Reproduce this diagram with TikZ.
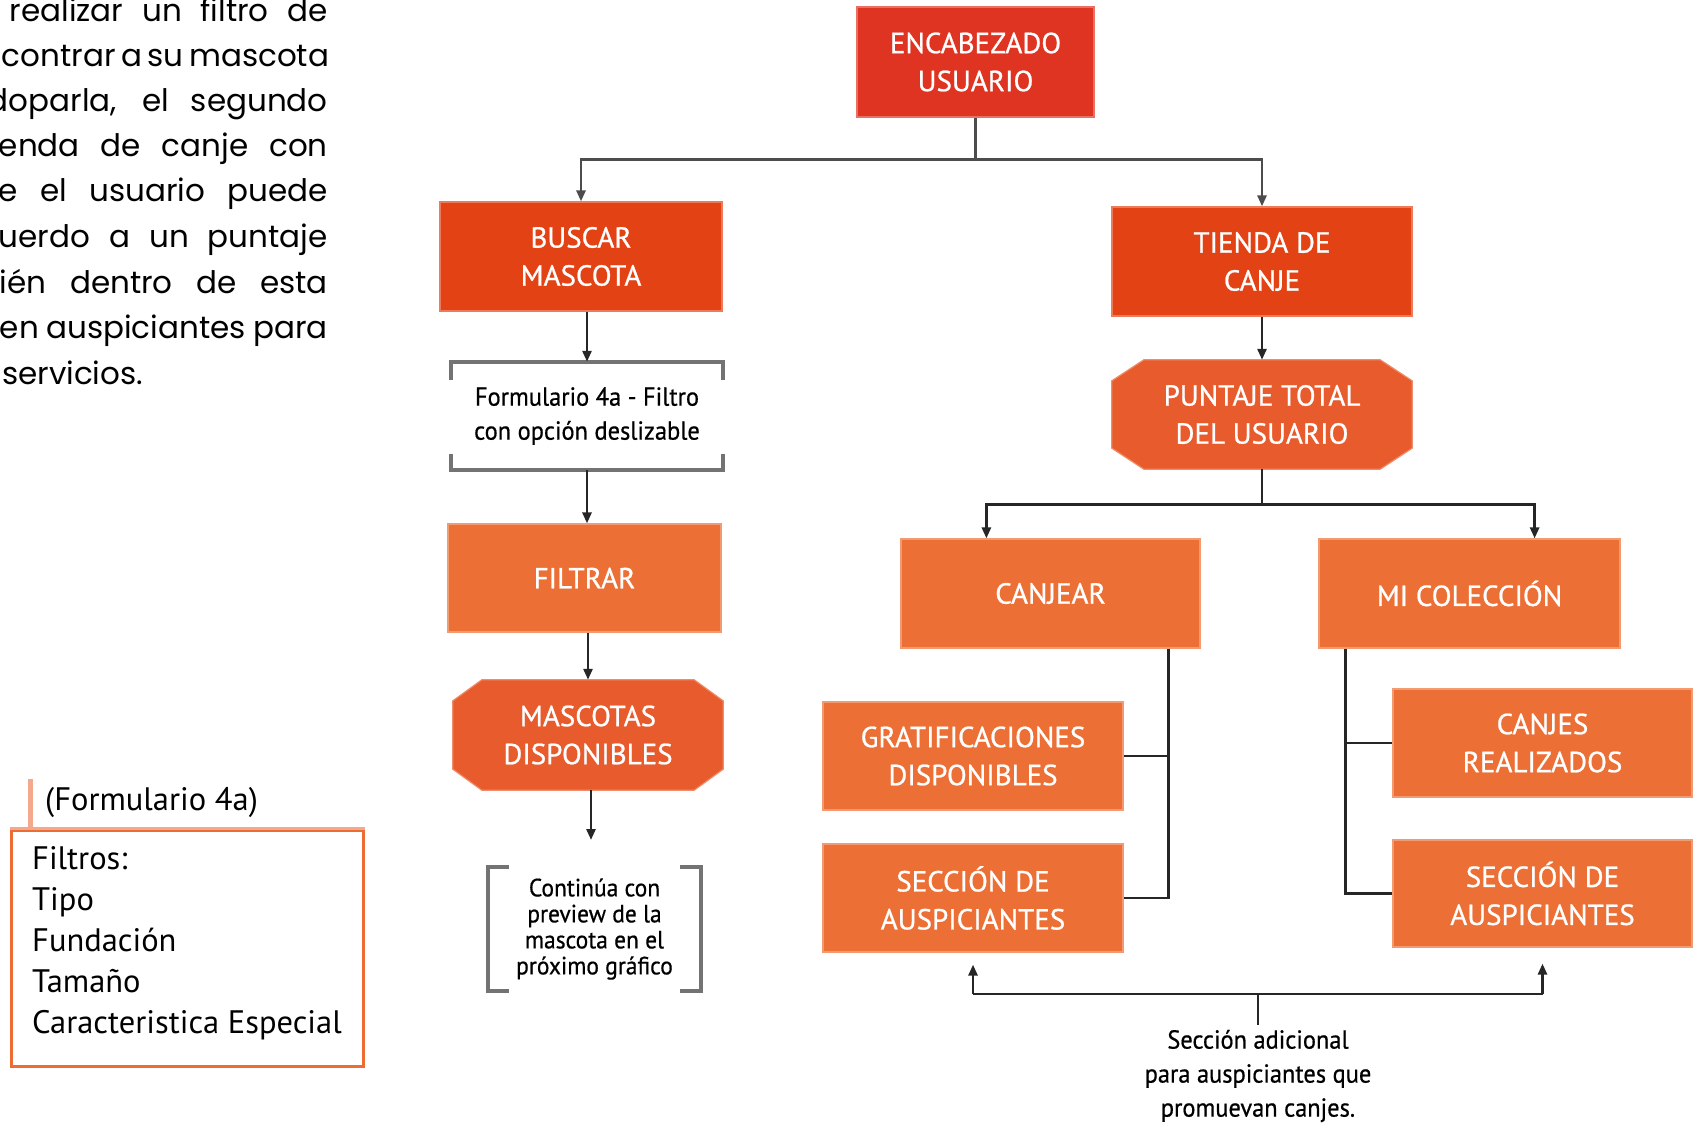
\documentclass[tikz,border=0pt]{standalone}
\usepackage{fontspec}
\setmainfont{PT Sans}
\newfontfamily\labelfont[FakeStretch=1.0,FakeBold=0.8]{PT Sans}
\newfontfamily\notefont[FakeStretch=0.94,FakeBold=0.6]{PT Sans}
\newfontfamily\parafont{Poppins}
\usetikzlibrary{arrows.meta,calc,backgrounds}

\definecolor{encred}{RGB}{224,52,34}
\definecolor{deepor}{RGB}{227,66,20}
\definecolor{octor}{RGB}{232,91,44}
\definecolor{lightor}{RGB}{236,112,54}
\definecolor{salmon}{RGB}{244,168,140}
\definecolor{frameor}{RGB}{236,108,52}

\tikzset{
  tbox/.style={rectangle, inner sep=0pt, align=center, text=white,
    font=\labelfont\fontsize{29}{38}\selectfont,
    fill=#1, draw=#1!70!white, line width=1.2pt},
  octnode/.style={rectangle, inner sep=0pt, align=center, text=white,
    font=\labelfont\fontsize{29}{38}\selectfont},
  conn/.style={line width=2.6pt, draw=black!85},
  arr/.style={conn, -{Triangle[length=11pt,width=9pt]}},
  brkline/.style={line width=3.5pt, draw=black!55},
  note/.style={inner sep=0pt, align=center, text=black},
  paraline/.style={inner sep=0pt, anchor=base east, font=\parafont\fontsize{31}{45}\selectfont}
}

% filled octagon behind a rectangular node #1, chamfer #2 (x) and #3 (y)
\newcommand\octfill[4]{%
  \fill[#4, draw=#4!70!white, line width=1.2pt]
    ($(#1.north west)+(#2,0)$) -- ($(#1.north east)+(-#2,0)$) --
    ($(#1.north east)+(0,#3)$) -- ($(#1.south east)+(0,-#3)$) --
    ($(#1.south east)+(-#2,0)$) -- ($(#1.south west)+(#2,0)$) --
    ($(#1.south west)+(0,-#3)$) -- ($(#1.north west)+(0,#3)$) -- cycle;}

\begin{document}
\begin{tikzpicture}[x=1pt,y=-1pt]
\useasboundingbox (0,0) rectangle (1693,1123);

% ---- running text on the left (justified column, clipped at the page edge)
\begin{scope}
\clip (0,0) rectangle (1693,1123);
\node[paraline] (p1) at (328,22)    {\makebox[318pt][s]{realizar un filtro de}};
\node[paraline] (p2) at (328,66.5)  {\makebox[326pt][s]{contrar a su mascota}};
\node[paraline] (p3) at (328,111.5) {\makebox[340pt][s]{doparla, el segundo}};
\node[paraline] (p4) at (328,156.5) {\makebox[329pt][s]{enda de canje con}};
\node[paraline] (p5) at (328,202)   {\makebox[329pt][s]{e el usuario puede}};
\node[paraline] (p6) at (328,247.5) {\makebox[329pt][s]{uerdo a un puntaje}};
\node[paraline] (p7) at (328,293)   {\makebox[328pt][s]{ién dentro de esta}};
\node[paraline] (p8) at (328,338.5) {\makebox[328pt][s]{en auspiciantes para}};
\node[paraline, anchor=base west] (p9) at (2,384) {servicios.};
\end{scope}

% ---- boxes
\node[tbox=encred, minimum width=237pt, minimum height=110pt] (enc) at (975.5,62) {ENCABEZADO\\USUARIO};
\node[tbox=deepor, minimum width=282pt, minimum height=109pt] (buscar) at (581,256.5) {BUSCAR\\MASCOTA};
\node[tbox=deepor, minimum width=300pt, minimum height=109pt] (tienda) at (1262,261.5) {TIENDA DE\\CANJE};

\node[note, minimum width=272pt, minimum height=108pt,
      font=\notefont\fontsize{26}{34}\selectfont] (formnote) at (587,416)
      {Formulario 4a - Filtro\\con opción deslizable};

\node[tbox=lightor, minimum width=273pt, minimum height=108pt] (filtrar) at (584.5,578) {FILTRAR};
\node[octnode, minimum width=270pt, minimum height=110pt] (mascotas) at (588,735) {MASCOTAS\\DISPONIBLES};
\node[octnode, minimum width=300pt, minimum height=109pt] (puntaje) at (1262,414.5) {PUNTAJE TOTAL\\DEL USUARIO};

\node[note, minimum width=213pt, minimum height=124pt,
      font=\notefont\fontsize{25}{26}\selectfont] (cont) at (594.5,929)
      {Continúa con\\preview de la\\mascota en el\\próximo gráfico};

\node[tbox=lightor, minimum width=299pt, minimum height=109pt] (canjear) at (1050.5,593.5) {CANJEAR};
\node[tbox=lightor, minimum width=301pt, minimum height=109pt] (micol) at (1469.5,593.5) {MI COLECCIÓN};
\node[tbox=lightor, minimum width=300pt, minimum height=108pt] (grat) at (973,756) {GRATIFICACIONES\\DISPONIBLES};
\node[tbox=lightor, minimum width=300pt, minimum height=108pt] (secL) at (973,898) {SECCIÓN DE\\AUSPICIANTES};
\node[tbox=lightor, minimum width=299pt, minimum height=108pt] (canjes) at (1542.5,743) {CANJES\\REALIZADOS};
\node[tbox=lightor, minimum width=299pt, minimum height=107pt] (secR) at (1542.5,893.5) {SECCIÓN DE\\AUSPICIANTES};

\node[note, font=\notefont\fontsize{26}{34}\selectfont, inner ysep=5pt] (bnote) at (1258,1076)
      {Sección adicional\\para auspiciantes que\\promuevan canjes.};

% octagon fills behind their labels
\begin{scope}[on background layer]
\octfill{mascotas}{29}{21}{octor}
\octfill{puntaje}{32}{21}{octor}
\end{scope}

% ---- brackets
\draw[brkline] ($(formnote.north west)+(0,18)$) -- (formnote.north west) -- (formnote.north east) -- ++(0,18);
\draw[brkline] ($(formnote.south west)+(0,-16)$) -- (formnote.south west) -- (formnote.south east) -- ++(0,-16);
\draw[brkline] ($(cont.north west)+(21,0)$) -- (cont.north west) -- (cont.south west) -- ++(21,0);
\draw[brkline] ($(cont.north east)+(-21,0)$) -- (cont.north east) -- (cont.south east) -- ++(-21,0);

% ---- connectors
\coordinate (jt) at ($(enc.south)+(0,42)$);
\draw[conn, draw=black!70] (enc.south) -- (jt);
\draw[arr, draw=black!70] (jt) -| (buscar.north);
\draw[arr, draw=black!70] (jt) -| (tienda.north);

\draw[arr] (formnote.north |- buscar.south) -- (formnote.north);
\draw[arr] (formnote.south) -- (formnote.south |- filtrar.north);
\draw[arr] (mascotas.north |- filtrar.south) -- (mascotas.north);
\coordinate (mend) at (591,840);
\draw[arr] (mascotas.south -| mend) -- (mend);

\draw[arr] (tienda.south) -- (puntaje.north);
\coordinate (jp) at ($(puntaje.south)+(0,35)$);
\coordinate (cjin) at ($(canjear.north west)+(86,0)$);
\coordinate (mcin) at ($(micol.north east)+(-86,0)$);
\draw[conn] (puntaje.south) -- (jp);
\draw[arr] (jp) -| (cjin);
\draw[arr] (jp) -| (mcin);

\coordinate (lv) at ($(canjear.south east)+(-32,0)$);
\draw[conn] (lv) |- (secL.east);
\draw[conn] (lv |- grat.east) -- (grat.east);

\coordinate (rv) at ($(micol.south west)+(27,0)$);
\draw[conn] (rv) |- (secR.west);
\draw[conn] (rv |- canjes.west) -- (canjes.west);

\coordinate (bj) at (1258,994);
\draw[conn] (secL.south |- bj) -- (secR.south |- bj);
\draw[arr, shorten >=12pt] (secL.south |- bj) -- (secL.south);
\draw[arr, shorten >=16pt] (secR.south |- bj) -- (secR.south);
\draw[conn] (bj) -- (bnote.north);

% ---- filter list box
\node[draw=frameor, line width=3pt, minimum width=352pt, minimum height=236pt, inner sep=0pt] (fbox) at (187,948) {};
\draw[salmon, line width=3pt] (fbox.north west) -- (fbox.north east);
\draw[salmon, line width=5pt] ($(fbox.north west)+(21,0)$) -- ++(0,-50);
\node[inner sep=0pt, anchor=west, font=\fontsize{32.5}{36}\selectfont] (ftitle) at (45,802) {(Formulario 4a)};
\node[inner sep=0pt, anchor=north west, align=left, font=\fontsize{32.5}{41}\selectfont] (ftext) at (32,846)
  {Filtros:\\Tipo\\Fundación\\Tamaño\\Caracteristica Especial};
\end{tikzpicture}
\end{document}
